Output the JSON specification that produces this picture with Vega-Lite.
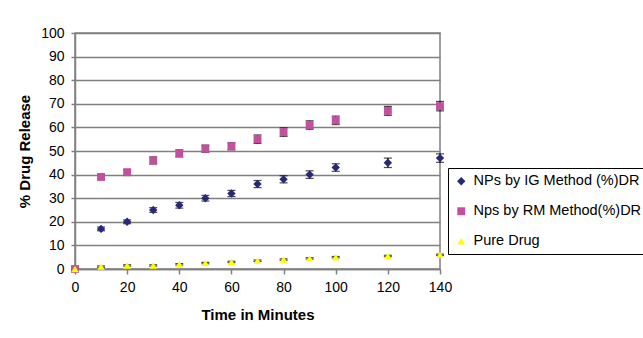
{
  "$schema": "https://vega.github.io/schema/vega-lite/v6.json",
  "width": 365,
  "height": 236,
  "autosize": {"type": "none"},
  "padding": {"left": 75, "top": 33, "right": 203, "bottom": 69},
  "background": "white",
  "config": {
    "font": "Liberation Sans",
    "view": {"stroke": "#808080", "strokeWidth": 1.5},
    "axis": {
      "labelFont": "Liberation Sans",
      "labelFontSize": 14,
      "labelColor": "#000000",
      "labelFlush": false,
      "titleFont": "Liberation Sans",
      "titleFontSize": 15,
      "titleFontWeight": "bold",
      "titleColor": "#000000",
      "domainColor": "#808080",
      "domainWidth": 1.5,
      "tickColor": "#808080",
      "tickWidth": 1.5,
      "tickSize": 5,
      "gridColor": "#808080",
      "gridWidth": 1.5,
      "gridOpacity": 1
    },
    "legend": {
      "labelFont": "Liberation Sans",
      "labelFontSize": 14.5,
      "labelColor": "#000000",
      "labelLimit": 300
    }
  },
  "data": {
    "values": [
      {"time": 0, "value": 0, "err": 0.3, "series": "NPs by IG Method (%)DR"},
      {"time": 10, "value": 17, "err": 0.8, "series": "NPs by IG Method (%)DR"},
      {"time": 20, "value": 20, "err": 0.8, "series": "NPs by IG Method (%)DR"},
      {"time": 30, "value": 25, "err": 1.0, "series": "NPs by IG Method (%)DR"},
      {"time": 40, "value": 27, "err": 1.2, "series": "NPs by IG Method (%)DR"},
      {"time": 50, "value": 30, "err": 1.2, "series": "NPs by IG Method (%)DR"},
      {"time": 60, "value": 32, "err": 1.3, "series": "NPs by IG Method (%)DR"},
      {"time": 70, "value": 36, "err": 1.5, "series": "NPs by IG Method (%)DR"},
      {"time": 80, "value": 38, "err": 1.5, "series": "NPs by IG Method (%)DR"},
      {"time": 90, "value": 40, "err": 1.6, "series": "NPs by IG Method (%)DR"},
      {"time": 100, "value": 43, "err": 1.6, "series": "NPs by IG Method (%)DR"},
      {"time": 120, "value": 45, "err": 2.0, "series": "NPs by IG Method (%)DR"},
      {"time": 140, "value": 47, "err": 1.8, "series": "NPs by IG Method (%)DR"},
      {"time": 0, "value": 0, "err": 0.3, "series": "Nps by RM Method(%)DR"},
      {"time": 10, "value": 39, "err": 0.8, "series": "Nps by RM Method(%)DR"},
      {"time": 20, "value": 41, "err": 1.2, "series": "Nps by RM Method(%)DR"},
      {"time": 30, "value": 46, "err": 1.5, "series": "Nps by RM Method(%)DR"},
      {"time": 40, "value": 49, "err": 1.5, "series": "Nps by RM Method(%)DR"},
      {"time": 50, "value": 51, "err": 1.5, "series": "Nps by RM Method(%)DR"},
      {"time": 60, "value": 52, "err": 1.5, "series": "Nps by RM Method(%)DR"},
      {"time": 70, "value": 55, "err": 1.8, "series": "Nps by RM Method(%)DR"},
      {"time": 80, "value": 58, "err": 1.8, "series": "Nps by RM Method(%)DR"},
      {"time": 90, "value": 61, "err": 1.8, "series": "Nps by RM Method(%)DR"},
      {"time": 100, "value": 63, "err": 1.8, "series": "Nps by RM Method(%)DR"},
      {"time": 120, "value": 67, "err": 1.9, "series": "Nps by RM Method(%)DR"},
      {"time": 140, "value": 69, "err": 2.0, "series": "Nps by RM Method(%)DR"},
      {"time": 0, "value": 0, "err": 0.2, "series": "Pure Drug"},
      {"time": 10, "value": 1, "err": 0.3, "series": "Pure Drug"},
      {"time": 20, "value": 1.5, "err": 0.3, "series": "Pure Drug"},
      {"time": 30, "value": 1.5, "err": 0.3, "series": "Pure Drug"},
      {"time": 40, "value": 2, "err": 0.3, "series": "Pure Drug"},
      {"time": 50, "value": 2.5, "err": 0.3, "series": "Pure Drug"},
      {"time": 60, "value": 3, "err": 0.3, "series": "Pure Drug"},
      {"time": 70, "value": 3.5, "err": 0.3, "series": "Pure Drug"},
      {"time": 80, "value": 4, "err": 0.3, "series": "Pure Drug"},
      {"time": 90, "value": 4.5, "err": 0.3, "series": "Pure Drug"},
      {"time": 100, "value": 5, "err": 0.3, "series": "Pure Drug"},
      {"time": 120, "value": 5.5, "err": 0.3, "series": "Pure Drug"},
      {"time": 140, "value": 6, "err": 0.3, "series": "Pure Drug"}
    ]
  },
  "encoding": {
    "x": {
      "field": "time",
      "type": "quantitative",
      "scale": {"domain": [0, 140], "nice": false, "zero": true},
      "axis": {
        "values": [0, 20, 40, 60, 80, 100, 120, 140],
        "grid": false,
        "title": "Time in Minutes",
        "labelPadding": 6,
        "titlePadding": 13
      }
    },
    "y": {
      "field": "value",
      "type": "quantitative",
      "scale": {"domain": [0, 100], "nice": false},
      "axis": {
        "values": [0, 10, 20, 30, 40, 50, 60, 70, 80, 90, 100],
        "grid": true,
        "title": "% Drug Release",
        "labelPadding": 7,
        "titlePadding": 8,
        "tickSize": 4
      }
    }
  },
  "layer": [
    {
      "mark": {"type": "errorbar", "ticks": {"size": 8, "color": "#000000", "strokeWidth": 1.5}, "color": "#000000", "thickness": 1.2},
      "encoding": {
        "y": {"field": "value", "type": "quantitative", "title": "% Drug Release"},
        "yError": {"field": "err"},
        "detail": {"field": "series"}
      }
    },
    {
      "mark": {"type": "point", "filled": true, "opacity": 1},
      "encoding": {
        "color": {
          "field": "series",
          "type": "nominal",
          "scale": {
            "domain": ["NPs by IG Method (%)DR", "Nps by RM Method(%)DR", "Pure Drug"],
            "range": ["#282878", "#C2509F", "#FFFF00"]
          },
          "legend": {
            "title": null,
            "orient": "none",
            "legendX": 373,
            "legendY": 135,
            "fillColor": "white",
            "strokeColor": "#000000",
            "padding": 6,
            "rowPadding": 15,
            "symbolSize": 28,
            "labelOffset": 5,
            "symbolStrokeWidth": 0
          }
        },
        "shape": {
          "field": "series",
          "type": "nominal",
          "scale": {
            "domain": ["NPs by IG Method (%)DR", "Nps by RM Method(%)DR", "Pure Drug"],
            "range": ["diamond", "square", "triangle-up"]
          },
          "legend": null
        },
        "size": {
          "field": "series",
          "type": "nominal",
          "scale": {
            "domain": ["NPs by IG Method (%)DR", "Nps by RM Method(%)DR", "Pure Drug"],
            "range": [70, 55, 85]
          },
          "legend": null
        }
      }
    }
  ]
}
